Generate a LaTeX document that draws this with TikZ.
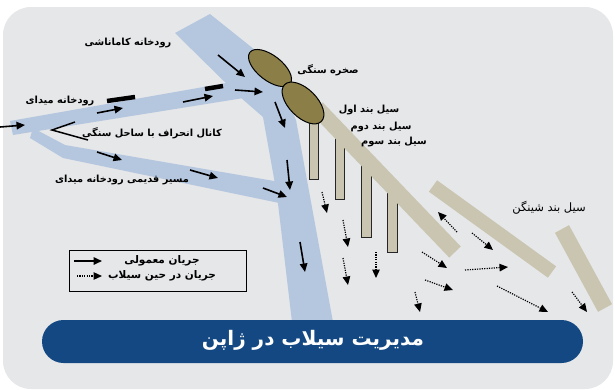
\documentclass[tikz,border=0pt]{standalone}
\usepackage{fontspec}
\usetikzlibrary{arrows.meta,shapes.geometric}
\TeXXeTstate=1
\newfontfamily\fa[Script=Arabic]{DejaVu Sans}

\definecolor{panel}{RGB}{230,231,233}
\definecolor{river}{RGB}{181,199,223}
\definecolor{dike}{RGB}{201,197,176}
\definecolor{rock}{RGB}{139,126,70}
\definecolor{titlebg}{RGB}{19,72,130}

\tikzset{
  flow/.style={line width=1.6pt, -{Triangle[length=8.5pt,width=7.5pt]}},
  flood/.style={line width=1.2pt, dash pattern=on 1.2pt off 1.2pt, -{Triangle[length=8.5pt,width=7.5pt]}},
  lbl/.style={font=\fa\bfseries\fontsize{9.8}{11}\selectfont, inner sep=0pt, text=black},
  weir/.style={fill=dike, draw=black!85, line width=0.8pt},
  levee/.style={draw=dike, line cap=butt},
  stone/.style={ellipse, draw=black, line width=1pt, fill=rock, inner sep=0pt},
  barrier/.style={line width=4.5pt, black}
}

\begin{document}
\begin{tikzpicture}[x=1pt, y=-1pt]
\useasboundingbox (0,0) rectangle (615,389);

% backdrop panel
\fill[panel, rounded corners=28pt] (3,7) rectangle (613,389);

% rivers
\fill[river] (175,33) -- (210,14) -- (270,62) -- (296,120) -- (333,322)
  -- (292,322) -- (277,195) -- (263,117) -- (240,97) -- cycle;
\fill[river] (10,121) -- (232,82) -- (250,97) -- (13,135) -- cycle;
\fill[river] (33,128) -- (65,145) -- (280,182) -- (284,204) -- (63,158) -- (30,138) -- cycle;

% weirs hanging from the first levee
\draw[weir] (309,118) rectangle (318,179);
\draw[weir] (335,135) rectangle (344,199);
\draw[weir] (361,160) rectangle (371,237);
\draw[weir] (387,185) rectangle (397,252);

% levees
\draw[levee, line width=16pt] (317,108) -- (455,252);
\draw[levee, line width=14pt] (433,186) -- (552,272);
\draw[levee, line width=16pt] (562,229) -- (605,308);

% rocks
\node[stone, rotate=-38, minimum width=51pt, minimum height=25pt] (rockA) at (270,68) {};
\node[stone, rotate=-45, minimum width=52pt, minimum height=28pt] (rockB) at (303,103) {};

% short barriers and the diversion channel mark
\draw[barrier] (107,101) -- (135,97);
\draw[barrier] (205,89) -- (223,86);
\draw[line width=1.5pt] (75,122) -- (52,130) -- (88,140);

% normal flow
\draw[flow] (0,127) -- (25,125);
\draw[flow] (97,113) -- (123,108);
\draw[flow] (183,102) -- (213,96);
\draw[flow] (235,90) -- (263,92);
\draw[flow] (218,55) -- (245,77);
\draw[flow] (275,102) -- (285,128);
\draw[flow] (287,160) -- (290,190);
\draw[flow] (97,152) -- (122,160);
\draw[flow] (190,170) -- (218,178);
\draw[flow] (263,188) -- (287,197);
\draw[flow] (300,242) -- (305,272);

% flood flow
\draw[flood] (322,192) -- (327,213);
\draw[flood] (343,220) -- (348,247);
\draw[flood] (343,258) -- (348,285);
\draw[flood] (376,252) -- (376,278);
\draw[flood] (415,292) -- (420,312);
\draw[flood] (422,252) -- (447,268);
\draw[flood] (425,280) -- (453,290);
\draw[flood] (457,232) -- (438,212);
\draw[flood] (472,233) -- (493,250);
\draw[flood] (465,270) -- (508,267);
\draw[flood] (497,286) -- (548,312);
\draw[flood] (572,292) -- (587,312);

% labels
\node[lbl] (kamanashi) at (128,43) {\beginR رودخانه کاماناشی\endR};
\node[lbl] (meidai) at (60,101) {\beginR رودخانه میدای\endR};
\node[lbl] (channel) at (152,133) {\beginR کانال انحراف با ساحل سنگی\endR};
\node[lbl] (oldpath) at (122,180) {\beginR مسیر قدیمی رودخانه میدای\endR};
\node[lbl] (rocklbl) at (328,70) {\beginR صخره سنگی\endR};
\node[lbl] (first) at (369,110) {\beginR سیل بند اول\endR};
\node[lbl] (second) at (381,127) {\beginR سیل بند دوم\endR};
\node[lbl] (third) at (394,142) {\beginR سیل بند سوم\endR};
\node[lbl, font=\fa\fontsize{11.5}{13}\selectfont] (shingen) at (549,208) {\beginR سیل بند شینگن\endR};

% legend
\draw[line width=1pt] (69,250) rectangle (246,291);
\draw[flow] (74,261) -- (102,261);
\draw[flood] (77,276) -- (102,276);
\node[lbl, font=\fa\bfseries\fontsize{10.5}{12}\selectfont] (normal) at (162,261) {\beginR جریان معمولی\endR};
\node[lbl, font=\fa\bfseries\fontsize{10.5}{12}\selectfont] (flooding) at (162,276) {\beginR جریان در حین سیلاب\endR};

% title bar
\fill[titlebg, rounded corners=21.5pt] (42,320) rectangle (583,363);
\node[font=\fa\bfseries\fontsize{20}{24}\selectfont, text=white, inner sep=0pt] (title)
  at (313,340) {\beginR مدیریت سیلاب در ژاپن\endR};
\end{tikzpicture}
\end{document}
